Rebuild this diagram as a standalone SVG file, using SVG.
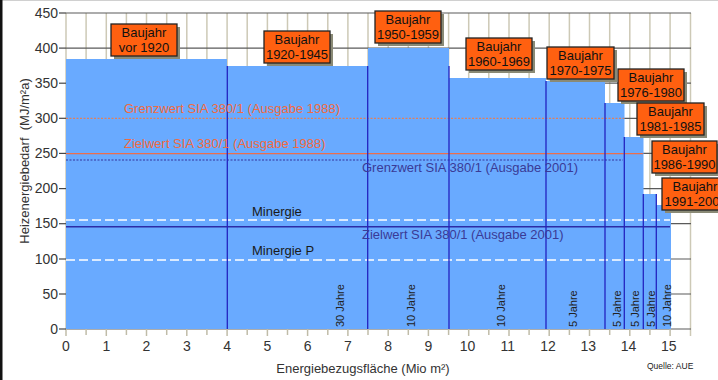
<svg xmlns="http://www.w3.org/2000/svg" width="718" height="380" viewBox="0 0 718 380">
<style>
text{font-family:"Liberation Sans",Arial,sans-serif}
.vg{stroke:#cdc9b6;stroke-width:1.5}
.hg{stroke:#5a5a5a;stroke-width:1.2}
.tk{stroke:#444;stroke-width:1.2}
.xt{stroke:#c0bca8;stroke-width:1.5}
.ax{font-size:14px;fill:#333}
.bar{fill:#69aaff}
.sep{stroke:#2323c0;stroke-width:1.3}
.box{fill:#ff6010;stroke:#222;stroke-width:1.3}
.sh{fill:#8a8a76}
.bt{font-size:13px;fill:#111;text-anchor:middle}
.jt{font-size:11px;fill:#222}
.or{font-size:13px;fill:#f26a40}
.bl{font-size:13px;fill:#3a3a96}
.mn{font-size:13px;fill:#1a1a1a}
</style>
<rect x="0" y="0" width="718" height="380" fill="#ffffff"/>
<line x1="0" y1="0.5" x2="718" y2="0.5" stroke="#d0d0d0"/>
<rect x="0" y="0" width="2.5" height="380" fill="#111"/>
<g id="grid">
<rect x="66" y="13" width="625" height="316" fill="#ffffff"/>
<g class="vg">
<line x1="66" y1="13" x2="66" y2="329"/><line x1="86.1" y1="13" x2="86.1" y2="329"/><line x1="106.3" y1="13" x2="106.3" y2="329"/><line x1="126.4" y1="13" x2="126.4" y2="329"/><line x1="146.5" y1="13" x2="146.5" y2="329"/><line x1="166.7" y1="13" x2="166.7" y2="329"/><line x1="186.8" y1="13" x2="186.8" y2="329"/><line x1="206.9" y1="13" x2="206.9" y2="329"/><line x1="227.1" y1="13" x2="227.1" y2="329"/><line x1="247.2" y1="13" x2="247.2" y2="329"/><line x1="267.4" y1="13" x2="267.4" y2="329"/><line x1="287.5" y1="13" x2="287.5" y2="329"/><line x1="307.6" y1="13" x2="307.6" y2="329"/><line x1="327.8" y1="13" x2="327.8" y2="329"/><line x1="347.9" y1="13" x2="347.9" y2="329"/><line x1="368" y1="13" x2="368" y2="329"/><line x1="388.2" y1="13" x2="388.2" y2="329"/><line x1="408.3" y1="13" x2="408.3" y2="329"/><line x1="428.4" y1="13" x2="428.4" y2="329"/><line x1="448.6" y1="13" x2="448.6" y2="329"/><line x1="468.7" y1="13" x2="468.7" y2="329"/><line x1="488.8" y1="13" x2="488.8" y2="329"/><line x1="509" y1="13" x2="509" y2="329"/><line x1="529.1" y1="13" x2="529.1" y2="329"/><line x1="549.2" y1="13" x2="549.2" y2="329"/><line x1="569.4" y1="13" x2="569.4" y2="329"/><line x1="589.5" y1="13" x2="589.5" y2="329"/><line x1="609.7" y1="13" x2="609.7" y2="329"/><line x1="629.8" y1="13" x2="629.8" y2="329"/><line x1="649.9" y1="13" x2="649.9" y2="329"/><line x1="670.1" y1="13" x2="670.1" y2="329"/><line x1="690.5" y1="13" x2="690.5" y2="336"/>
</g>
<g class="hg">
<line x1="66" y1="13" x2="691" y2="13"/><line x1="66" y1="48.1" x2="691" y2="48.1"/><line x1="66" y1="83.2" x2="691" y2="83.2"/><line x1="66" y1="118.3" x2="691" y2="118.3"/><line x1="66" y1="153.4" x2="691" y2="153.4"/><line x1="66" y1="188.6" x2="691" y2="188.6"/><line x1="66" y1="223.7" x2="691" y2="223.7"/><line x1="66" y1="259" x2="691" y2="259"/><line x1="66" y1="294" x2="691" y2="294"/><line x1="66" y1="329" x2="691" y2="329"/>
</g>
<g class="xt">
<line x1="66" y1="329" x2="66" y2="336"/><line x1="86.1" y1="329" x2="86.1" y2="335"/><line x1="106.3" y1="329" x2="106.3" y2="336"/><line x1="126.4" y1="329" x2="126.4" y2="335"/><line x1="146.5" y1="329" x2="146.5" y2="336"/><line x1="166.7" y1="329" x2="166.7" y2="335"/><line x1="186.8" y1="329" x2="186.8" y2="336"/><line x1="206.9" y1="329" x2="206.9" y2="335"/><line x1="227.1" y1="329" x2="227.1" y2="336"/><line x1="247.2" y1="329" x2="247.2" y2="335"/><line x1="267.4" y1="329" x2="267.4" y2="336"/><line x1="287.5" y1="329" x2="287.5" y2="335"/><line x1="307.6" y1="329" x2="307.6" y2="336"/><line x1="327.8" y1="329" x2="327.8" y2="335"/><line x1="347.9" y1="329" x2="347.9" y2="336"/><line x1="368" y1="329" x2="368" y2="335"/><line x1="388.2" y1="329" x2="388.2" y2="336"/><line x1="408.3" y1="329" x2="408.3" y2="335"/><line x1="428.4" y1="329" x2="428.4" y2="336"/><line x1="448.6" y1="329" x2="448.6" y2="335"/><line x1="468.7" y1="329" x2="468.7" y2="336"/><line x1="488.8" y1="329" x2="488.8" y2="335"/><line x1="509" y1="329" x2="509" y2="336"/><line x1="529.1" y1="329" x2="529.1" y2="335"/><line x1="549.2" y1="329" x2="549.2" y2="336"/><line x1="569.4" y1="329" x2="569.4" y2="335"/><line x1="589.5" y1="329" x2="589.5" y2="336"/><line x1="609.7" y1="329" x2="609.7" y2="335"/><line x1="629.8" y1="329" x2="629.8" y2="336"/><line x1="649.9" y1="329" x2="649.9" y2="335"/><line x1="670.1" y1="329" x2="670.1" y2="336"/>
</g>
<g class="tk">
<line x1="59" y1="13" x2="66" y2="13"/><line x1="59" y1="48.1" x2="66" y2="48.1"/><line x1="59" y1="83.2" x2="66" y2="83.2"/><line x1="59" y1="118.3" x2="66" y2="118.3"/><line x1="59" y1="153.4" x2="66" y2="153.4"/><line x1="59" y1="188.6" x2="66" y2="188.6"/><line x1="59" y1="223.7" x2="66" y2="223.7"/><line x1="59" y1="259" x2="66" y2="259"/><line x1="59" y1="294" x2="66" y2="294"/><line x1="59" y1="329" x2="66" y2="329"/>
</g>
</g>
<g id="bars">
<rect class="bar" x="66" y="59" width="161" height="270"/>
<rect class="bar" x="227" y="66" width="141" height="263"/>
<rect class="bar" x="368" y="48" width="81" height="281"/>
<rect class="bar" x="449" y="78" width="97" height="251"/>
<rect class="bar" x="546" y="81" width="59" height="248"/>
<rect class="bar" x="605" y="103" width="19.5" height="226"/>
<rect class="bar" x="624" y="137" width="19.5" height="192"/>
<rect class="bar" x="643" y="194" width="13.5" height="135"/>
<rect class="bar" x="656" y="205" width="15" height="124"/>
</g>
<g id="y-axis">
<g class="ax" text-anchor="end">
<text x="58" y="18">450</text><text x="58" y="53">400</text><text x="58" y="88">350</text><text x="58" y="123">300</text><text x="58" y="158">250</text><text x="58" y="193">200</text><text x="58" y="228">150</text><text x="58" y="264">100</text><text x="58" y="299">50</text><text x="58" y="334">0</text>
</g>
<text transform="translate(29,161) rotate(-90)" text-anchor="middle" style="font-size:13px;fill:#333" xml:space="preserve">Heizenergiebedarf  (MJ/m²a)</text>
</g>
<g id="x-axis">
<g class="ax" text-anchor="middle">
<text x="66" y="351">0</text><text x="106.3" y="351">1</text><text x="146.5" y="351">2</text><text x="186.8" y="351">3</text><text x="227.1" y="351">4</text><text x="267.4" y="351">5</text><text x="307.6" y="351">6</text><text x="347.9" y="351">7</text><text x="388.2" y="351">8</text><text x="428.4" y="351">9</text><text x="467.5" y="351">10</text><text x="507.8" y="351">11</text><text x="548" y="351">12</text><text x="588.3" y="351">13</text><text x="628.6" y="351">14</text><text x="668.8" y="351">15</text>
</g>
<text x="363" y="373" text-anchor="middle" style="font-size:13px;fill:#333">Energiebezugsfläche (Mio m²)</text>
<text x="647" y="369" style="font-size:8.5px;fill:#222">Quelle: AUE</text>
</g>
<g id="connectors">
<line x1="66" y1="118.3" x2="624" y2="118.3" stroke="#e0805c" stroke-width="1.2" stroke-dasharray="2,1.5"/>
<line x1="66" y1="153.6" x2="643" y2="153.6" stroke="#ec6e4c" stroke-width="1.4"/>
<line x1="66" y1="160" x2="623" y2="160" stroke="#34349e" stroke-width="1.2" stroke-dasharray="2,1.5"/>
<line x1="66" y1="220" x2="670" y2="220" stroke="#ffffff" stroke-width="1.3" stroke-dasharray="9,4"/>
<line x1="66" y1="226.7" x2="670" y2="226.7" stroke="#2c2ca6" stroke-width="1.4"/>
<line x1="66" y1="260" x2="670" y2="260" stroke="#ffffff" stroke-width="1.3" stroke-dasharray="9,4"/>
<g class="sep">
<line x1="227.3" y1="66" x2="227.3" y2="329"/>
<line x1="367.7" y1="66" x2="367.7" y2="329"/>
<line x1="449" y1="66" x2="449" y2="329"/>
<line x1="546" y1="81" x2="546" y2="329"/>
<line x1="605" y1="103" x2="605" y2="329"/>
<line x1="624.3" y1="137" x2="624.3" y2="329"/>
<line x1="643.3" y1="194" x2="643.3" y2="329"/>
<line x1="656.3" y1="194" x2="656.3" y2="329"/>
</g>
</g>
<g id="ref-labels">
<text class="or" x="124" y="113">Grenzwert SIA 380/1 (Ausgabe 1988)</text>
<text class="or" x="124" y="148">Zielwert SIA 380/1 (Ausgabe 1988)</text>
<text class="bl" x="362" y="172">Grenzwert SIA 380/1 (Ausgabe 2001)</text>
<text class="bl" x="362" y="239">Zielwert SIA 380/1 (Ausgabe 2001)</text>
<text class="mn" x="252" y="216">Minergie</text>
<text class="mn" x="252" y="255">Minergie P</text>
</g>
<g id="jahre-labels" class="jt">
<text transform="translate(344,327) rotate(-90)">30 Jahre</text>
<text transform="translate(415,327) rotate(-90)">10 Jahre</text>
<text transform="translate(505,327) rotate(-90)">10 Jahre</text>
<text transform="translate(577,327) rotate(-90)">5 Jahre</text>
<text transform="translate(620.5,327) rotate(-90)">5 Jahre</text>
<text transform="translate(639,327) rotate(-90)">5 Jahre</text>
<text transform="translate(655,327) rotate(-90)">5 Jahre</text>
<text transform="translate(670.5,327) rotate(-90)">10 Jahre</text>
</g>
<g id="box-vor1920">
<rect class="sh" x="114" y="27" width="66" height="32"/><rect class="box" x="111" y="24" width="66" height="32"/>
<text class="bt" x="144" y="37">Baujahr</text><text class="bt" x="144" y="52">vor 1920</text>
</g>
<g id="box-1920-1945">
<rect class="sh" x="267" y="34" width="66" height="32"/><rect class="box" x="264" y="31" width="66" height="32"/>
<text class="bt" x="297" y="44">Baujahr</text><text class="bt" x="297" y="59">1920-1945</text>
</g>
<g id="box-1950-1959">
<rect class="sh" x="378" y="14" width="66" height="32"/><rect class="box" x="375" y="11" width="66" height="32"/>
<text class="bt" x="408" y="24">Baujahr</text><text class="bt" x="408" y="39">1950-1959</text>
</g>
<g id="box-1960-1969">
<rect class="sh" x="469" y="41" width="66" height="32"/><rect class="box" x="466" y="38" width="66" height="32"/>
<text class="bt" x="499" y="51">Baujahr</text><text class="bt" x="499" y="66">1960-1969</text>
</g>
<g id="box-1970-1975">
<rect class="sh" x="550" y="50" width="67" height="32"/><rect class="box" x="547" y="47" width="67" height="32"/>
<text class="bt" x="580.5" y="60">Baujahr</text><text class="bt" x="580.5" y="75">1970-1975</text>
</g>
<g id="box-1976-1980">
<rect class="sh" x="621" y="72" width="66" height="32"/><rect class="box" x="618" y="69" width="66" height="32"/>
<text class="bt" x="651" y="82">Baujahr</text><text class="bt" x="651" y="97">1976-1980</text>
</g>
<g id="box-1981-1985">
<rect class="sh" x="640" y="106" width="67" height="32"/><rect class="box" x="637" y="103" width="67" height="32"/>
<text class="bt" x="670.5" y="116">Baujahr</text><text class="bt" x="670.5" y="131">1981-1985</text>
</g>
<g id="box-1986-1990">
<rect class="sh" x="655" y="144" width="66" height="32"/><rect class="box" x="652" y="141" width="65" height="32"/>
<text class="bt" x="684.5" y="154">Baujahr</text><text class="bt" x="684.5" y="169">1986-1990</text>
</g>
<g id="box-1991-2000">
<rect class="sh" x="665" y="181" width="66" height="32"/><rect class="box" x="662" y="178" width="66" height="32"/>
<text class="bt" x="695" y="191">Baujahr</text><text x="664.5" y="206" style="font-size:13px;fill:#111">1991-200</text>
</g>
</svg>
